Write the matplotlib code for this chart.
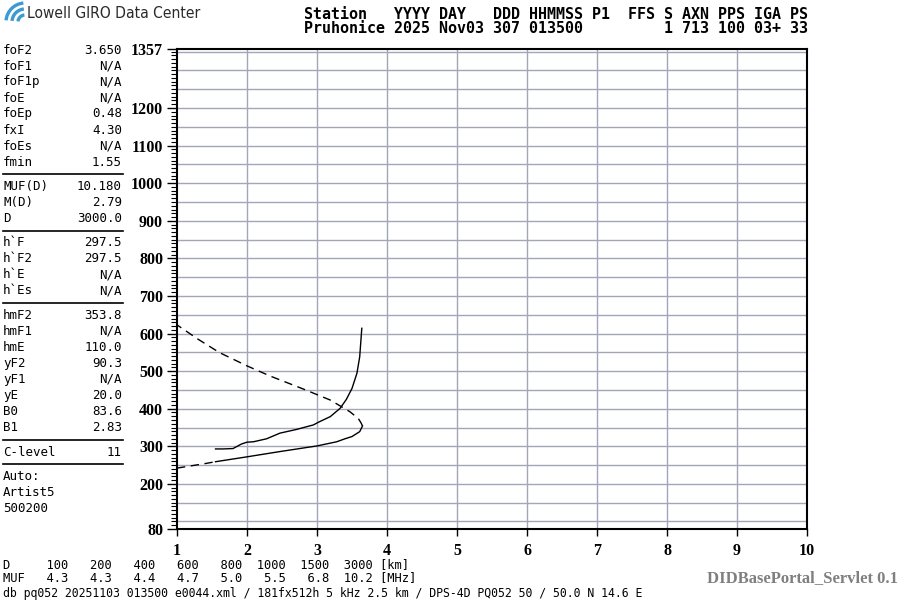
#!/usr/bin/env python3

import numpy as np
import matplotlib
matplotlib.use('Agg')
import matplotlib.pyplot as plt
from matplotlib.lines import Line2D
from matplotlib.patches import Arc

# virtual height trace h'(f), solid
trace_f = [1.55, 1.66, 1.80, 1.92, 2.00, 2.09, 2.28, 2.47, 2.71, 2.95, 3.02, 3.19, 3.33, 3.42, 3.50, 3.57, 3.61, 3.64]
trace_h = [293, 293, 294, 306, 311, 312, 320, 335, 345, 357, 364, 379, 401, 425, 454, 494, 538, 614]

# true height profile: below fmin (dashed), fmin..foF2 (solid), topside (dashed)
prof_low_f = [1.00, 1.20, 1.40, 1.55]
prof_low_h = [242, 248, 254, 259]
prof_mid_f = [1.55, 2.00, 2.47, 3.00, 3.28, 3.40, 3.50, 3.61, 3.65]
prof_mid_h = [259, 272, 286, 301, 312, 320, 326, 339, 354]
prof_top_f = [3.65, 3.63, 3.59, 3.47, 3.19, 2.81, 2.33, 2.00, 1.61, 1.30, 1.00]
prof_top_h = [354, 362, 374, 392, 423, 452, 487, 514, 549, 585, 623]

freq_ticks = [1, 2, 3, 4, 5, 6, 7, 8, 9, 10]
height_ticks = [80, 200, 300, 400, 500, 600, 700, 800, 900, 1000, 1100, 1200, 1357]

# side panel
group_names = [
	["foF2", "foF1", "foF1p", "foE", "foEp", "fxI", "foEs", "fmin"],
	["MUF(D)", "M(D)", "D"],
	["h`F", "h`F2", "h`E", "h`Es"],
	["hmF2", "hmF1", "hmE", "yF2", "yF1", "yE", "B0", "B1"],
	["C-level"],
]
group_values = [
	["3.650", "N/A", "N/A", "N/A", "0.48", "4.30", "N/A", "1.55"],
	["10.180", "2.79", "3000.0"],
	["297.5", "297.5", "N/A", "N/A"],
	["353.8", "N/A", "110.0", "90.3", "N/A", "20.0", "83.6", "2.83"],
	["11"],
]
autoscaler = ["Auto:", "Artist5", "500200"]

header_top = "Station   YYYY DAY   DDD HHMMSS P1  FFS S AXN PPS IGA PS"
header_bot = "Pruhonice 2025 Nov03 307 013500         1 713 100 03+ 33"

muf_dist = [100, 200, 400, 600, 800, 1000, 1500, 3000]
muf_vals = [4.3, 4.3, 4.4, 4.7, 5.0, 5.5, 6.8, 10.2]
footer = "db pq052 20251103 013500 e0044.xml / 181fx512h 5 kHz 2.5 km / DPS-4D PQ052 50 / 50.0 N 14.6 E"

W, H = 900, 600
MONO = 'DejaVu Sans Mono'
SERIF = 'Liberation Serif'


def ptext(fig, x, y, s, **kw):
	# place text using pixel coords (origin top-left)
	return fig.text(x / W, 1 - y / H, s, **kw)


def hline(fig, x0, x1, y):
	fig.add_artist(Line2D([x0 / W, x1 / W], [1 - y / H, 1 - y / H], color='black', lw=1.2))


def main():
	fig = plt.figure(figsize=(9, 6), dpi=100)

	ax = fig.add_axes([177 / W, 1 - 529 / H, 630 / W, 480 / H])
	ax.set_xlim(1, 10)
	ax.set_ylim(80, 1357)

	grid_kw = dict(color='#a3a6b8', lw=1.0, zorder=1)
	ax.hlines(np.arange(100, 1357, 50), 1, 10, **grid_kw)
	ax.vlines(freq_ticks[1:-1], 80, 1357, **grid_kw)

	ax.plot(trace_f, trace_h, color='black', lw=1.0, zorder=3)
	ax.plot(prof_low_f, prof_low_h, color='black', lw=1.0, ls=(0, (6, 4)), zorder=3)
	ax.plot(prof_mid_f, prof_mid_h, color='black', lw=1.0, zorder=3)
	ax.plot(prof_top_f, prof_top_h, color='black', lw=1.0, ls=(0, (6, 4)), zorder=3)

	ax.set_xticks(freq_ticks)
	ax.set_yticks(height_ticks)
	ax.set_yticks(np.arange(80, 1357, 10), minor=True)
	ax.tick_params(axis='y', which='major', length=7, width=1, pad=3)
	ax.tick_params(axis='y', which='minor', length=4, width=0.8)
	ax.tick_params(axis='x', which='major', length=5, width=1, pad=5)
	for lab in ax.get_xticklabels() + ax.get_yticklabels():
		lab.set_fontfamily(SERIF)
		lab.set_fontweight('bold')
		lab.set_fontsize(11.5)
	for sp in ax.spines.values():
		sp.set_linewidth(1.5)

	# logo
	lax = fig.add_axes([0, 1 - 26 / H, 28 / W, 26 / H])
	lax.set_xlim(0, 28)
	lax.set_ylim(0, 26)
	lax.axis('off')
	for r in (7, 13, 19):
		lax.add_patch(Arc((25, 4), 2 * r, 2 * r, theta1=95, theta2=175, color='#3c9ad2', lw=2.4))
	ptext(fig, 27, 14, "Lowell GIRO Data Center", family='DejaVu Sans', stretch='condensed',
		fontsize=11.2, color='#2a2a2a', va='center')

	# header (two rows in one text)
	ptext(fig, 304, 21.5, header_top + "\n" + header_bot, family=MONO, weight='bold',
		fontsize=10.8, va='center', linespacing=0.9)

	# side panel
	y = 50
	for names, vals in zip(group_names, group_values):
		for n, v in zip(names, vals):
			ptext(fig, 3, y, n, family=MONO, fontsize=9, va='center')
			ptext(fig, 122, y, v, family=MONO, fontsize=9, va='center', ha='right')
			y += 16
		y -= 16
		hline(fig, 3, 123, y + 12)
		y += 24.5
	for s in autoscaler:
		ptext(fig, 3, y, s, family=MONO, fontsize=9, va='center')
		y += 16

	# bottom MUF table
	d_row = "D  " + "".join("%6d" % d for d in muf_dist) + " [km]"
	m_row = "MUF" + "".join("%6.1f" % m for m in muf_vals) + " [MHz]"
	ptext(fig, 3, 565, d_row, family=MONO, fontsize=8.7, va='center')
	ptext(fig, 3, 578, m_row, family=MONO, fontsize=8.7, va='center')
	ptext(fig, 3, 593, footer, family=MONO, fontsize=8.3, va='center')
	ptext(fig, 898, 578, "DIDBasePortal_Servlet 0.1", family=SERIF, weight='bold',
		fontsize=12, color='#7f7f7f', va='center', ha='right')

	fig.savefig("out.png", dpi=100)


if __name__ == "__main__":
	main()
